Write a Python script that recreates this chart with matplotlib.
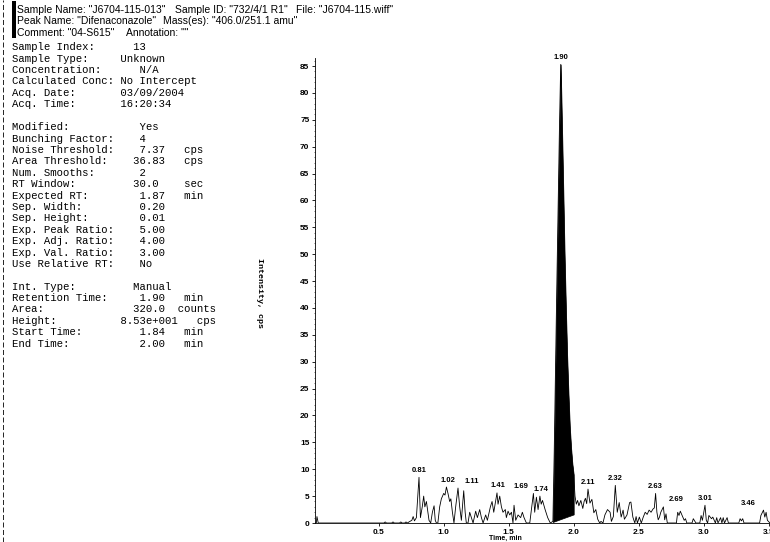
import numpy as np
import matplotlib
matplotlib.use("Agg")
import matplotlib.pyplot as plt
from matplotlib.ticker import MultipleLocator
from matplotlib.patches import Rectangle
from matplotlib.lines import Line2D

# chromatogram trace, time (min) and intensity (cps)
time = [0.00, 0.02, 0.025, 0.035, 0.54, 0.55, 0.56, 0.60, 0.61, 0.62, 0.66, 0.67, 0.68,
        0.70, 0.71, 0.72, 0.74, 0.755, 0.765, 0.775, 0.79, 0.81, 0.821, 0.835, 0.846,
        0.855, 0.867, 0.887, 0.90, 0.913, 0.926, 0.935, 0.944, 0.955, 0.969, 0.982,
        1.00, 1.01, 1.021, 1.033, 1.046, 1.055, 1.067, 1.079, 1.092, 1.11, 1.123,
        1.136, 1.154, 1.165, 1.174, 1.187, 1.20, 1.213, 1.226, 1.246, 1.259, 1.277,
        1.29, 1.303, 1.323, 1.336, 1.359, 1.372, 1.385, 1.41, 1.418, 1.431, 1.444,
        1.456, 1.474, 1.482, 1.495, 1.508, 1.521, 1.533, 1.541, 1.554, 1.572, 1.592,
        1.605, 1.618, 1.636, 1.662, 1.69, 1.70, 1.713, 1.726, 1.74, 1.75, 1.76, 1.78,
        1.80, 1.82, 1.84, 1.85, 1.86, 1.87, 1.88, 1.89, 1.90, 1.91, 1.92, 1.93, 1.94,
        1.95, 1.96, 1.97, 1.98, 1.99, 2.00, 2.01, 2.02, 2.03, 2.04, 2.055, 2.07, 2.08,
        2.09, 2.10, 2.11, 2.125, 2.14, 2.155, 2.17, 2.185, 2.20, 2.21, 2.225, 2.24,
        2.26, 2.28, 2.29, 2.305, 2.32, 2.335, 2.35, 2.365, 2.38, 2.39, 2.41, 2.43,
        2.44, 2.455, 2.47, 2.48, 2.49, 2.505, 2.52, 2.535, 2.55, 2.565, 2.58, 2.595,
        2.61, 2.62, 2.63, 2.64, 2.65, 2.66, 2.67, 2.69, 2.70, 2.71, 2.72, 2.79, 2.80,
        2.81, 2.82, 2.84, 2.85, 2.86, 2.87, 2.91, 2.92, 2.94, 2.97, 2.98, 2.99, 3.01,
        3.02, 3.03, 3.04, 3.05, 3.06, 3.07, 3.09, 3.10, 3.11, 3.13, 3.14, 3.15, 3.16,
        3.18, 3.19, 3.27, 3.28, 3.29, 3.30, 3.31, 3.43, 3.44, 3.46, 3.47, 3.48, 3.49, 3.51]
intensity = [0, 0, 1.2, 0, 0, 0.2, 0, 0, 0.2, 0, 0, 0.2, 0,
             0, 0.2, 0, 0.3, 0.5, 1.2, 0.4, 1.0, 8.5, 1.0, 3.0, 5.0,
             3.0, 4.0, 0.5, 0, 2.0, 3.2, 0.5, 0, 0, 3.0, 4.5,
             5.5, 5.2, 6.7, 5.5, 4.0, 4.5, 2.0, 0, 3.0, 6.5, 3.0,
             0.5, 6.0, 2.0, 0, 0, 2.0, 1.0, 0, 2.2, 1.0, 2.5,
             1.0, 0, 1.5, 0.5, 3.0, 4.0, 2.0, 5.6, 3.5, 5.0, 3.0,
             2.0, 2.5, 1.0, 2.2, 1.5, 2.0, 0, 3.3, 0.5, 1.5, 1.0,
             2.0, 1.0, 0, 0, 5.5, 2.0, 4.8, 2.5, 5.0, 3.5, 4.2, 2.5,
             1.0, 0, 0.3, 13, 29, 44, 59, 73, 85.3, 74, 62, 50, 40,
             31, 24, 18, 14, 11, 9.0, 5.0, 3.5, 4.2, 3.2, 4.2, 2.7, 4.0,
             4.6, 3.6, 6.3, 3.7, 4.4, 1.9, 2.5, 0.7, 0, 0.3, 0, 1.5,
             2.5, 2.0, 0.3, 1.2, 7.0, 2.0, 3.8, 1.1, 2.4, 0.7, 1.5, 3.8,
             3.9, 1.1, 0, 1.2, 0, 1.1, 0, 1.1, 2.0, 1.6, 2.4, 2.0,
             2.6, 2.8, 5.5, 2.0, 0.6, 1.1, 2.0, 3.0, 0.6, 1.7, 0, 0, 2.0,
             1.4, 2.2, 1.1, 0.5, 0.8, 0, 0, 0.8, 0, 0, 1.4, 0.5, 3.3,
             0.5, 0, 1.4, 1.1, 0.8, 1.1, 0, 1.0, 0, 1.0, 0, 1.0, 0,
             1.0, 0, 0, 0.8, 0.4, 0.8, 0, 0, 1.4, 2.4, 1.1, 2.0, 0.5, 0]

# integrated peak: start/end time and the drawn baseline level
base_time = [1.84, 2.00]
base_level = [0.2, 1.6]

# labelled apexes
label_time = [0.81, 1.02, 1.11, 1.41, 1.69, 1.74, 1.90, 2.11, 2.32, 2.63, 2.69, 3.01, 3.46]
label_dx = [0, 1, 10, 1, -9, 1, 0, 0, 0, 0, 9, 0, -11]  # points

header = [
    [('Sample Name: "J6704-115-013"', 17), ('Sample ID: "732/4/1 R1"', 175),
     ('File: "J6704-115.wiff"', 296)],
    [('Peak Name: "Difenaconazole"', 17), ('Mass(es): "406.0/251.1 amu"', 163)],
    [('Comment: "04-S615"', 17), ('Annotation: ""', 126)],
]

info_lines = [
    "Sample Index:      13",
    "Sample Type:     Unknown",
    "Concentration:      N/A",
    "Calculated Conc: No Intercept",
    "Acq. Date:       03/09/2004",
    "Acq. Time:       16:20:34",
    "",
    "Modified:           Yes",
    "Bunching Factor:    4",
    "Noise Threshold:    7.37   cps",
    "Area Threshold:    36.83   cps",
    "Num. Smooths:       2",
    "RT Window:         30.0    sec",
    "Expected RT:        1.87   min",
    "Sep. Width:         0.20",
    "Sep. Height:        0.01",
    "Exp. Peak Ratio:    5.00",
    "Exp. Adj. Ratio:    4.00",
    "Exp. Val. Ratio:    3.00",
    "Use Relative RT:    No",
    "",
    "Int. Type:         Manual",
    "Retention Time:     1.90   min",
    "Area:              320.0  counts",
    "Height:          8.53e+001   cps",
    "Start Time:         1.84   min",
    "End Time:           2.00   min",
]

W, H = 770, 542
fig = plt.figure(figsize=(W / 100, H / 100), dpi=100)
sans = ["Liberation Sans", "DejaVu Sans"]
mono = ["Liberation Mono", "DejaVu Sans Mono"]

# header lines and the little black bar on the left
for i, row in enumerate(header):
    y = 1 - (10 + i * 11.5) / H
    for txt, x in row:
        fig.text(x / W, y, txt, family=sans, fontsize=7.5, va="center", ha="left")
fig.add_artist(Rectangle((12.5 / W, 1 - 38 / H), 3.5 / W, 37 / H,
                         transform=fig.transFigure, color="black", lw=0))
fig.add_artist(Line2D([3 / W, 3 / W], [0, 1], transform=fig.transFigure,
                      color="black", lw=0.6, ls=(0, (6, 3))))

# acquisition / integration parameters
for i, line in enumerate(info_lines):
    fig.text(12 / W, 1 - (47.3 + i * 11.4) / H, line, family=mono,
             fontsize=7.7, va="center", ha="left")

ax = fig.add_axes([315 / W, 1 - 523 / H, 1 - 315 / W, (523 - 58) / H])
t = np.array(time)
y = np.array(intensity)
ax.plot(t, y, color="black", lw=0.6)
m = (t >= base_time[0]) & (t <= base_time[1])
ax.fill_between(t[m], np.interp(t[m], base_time, base_level), y[m],
                color="black", lw=0.5)

for lt, dx in zip(label_time, label_dx):
    h = np.interp(lt, t, y)
    ax.annotate(f"{lt:.2f}", (lt, h), xytext=(dx, 2.5), textcoords="offset points",
                ha="center", va="bottom", fontsize=5.5, fontweight="bold",
                family=sans)

ax.set_xlim(0.01, 3.51)
ax.set_ylim(0, 86.5)
ax.yaxis.set_major_locator(MultipleLocator(5))
ax.yaxis.set_minor_locator(MultipleLocator(1))
ax.set_xticks([0.5, 1.0, 1.5, 2.0, 2.5, 3.0, 3.5])
ax.tick_params(axis="both", which="major", length=2, width=0.6, pad=2,
               labelsize=6)
ax.tick_params(axis="y", which="minor", length=1, width=0.4)
for lab in ax.get_xticklabels() + ax.get_yticklabels():
    lab.set_fontweight("bold")
    lab.set_family(sans)
for s in ["top", "right"]:
    ax.spines[s].set_visible(False)
for s in ["left", "bottom"]:
    ax.spines[s].set_linewidth(0.6)

fig.text(505 / W, 1 - 538 / H, "Time, min", family=sans, fontsize=5,
         fontweight="bold", ha="center", va="center")
fig.text(259 / W, 1 - 293 / H, "Intensity, cps", family=mono, fontsize=6,
         fontweight="bold", rotation=-90, ha="center", va="center")

fig.savefig("out.png", dpi=100)
